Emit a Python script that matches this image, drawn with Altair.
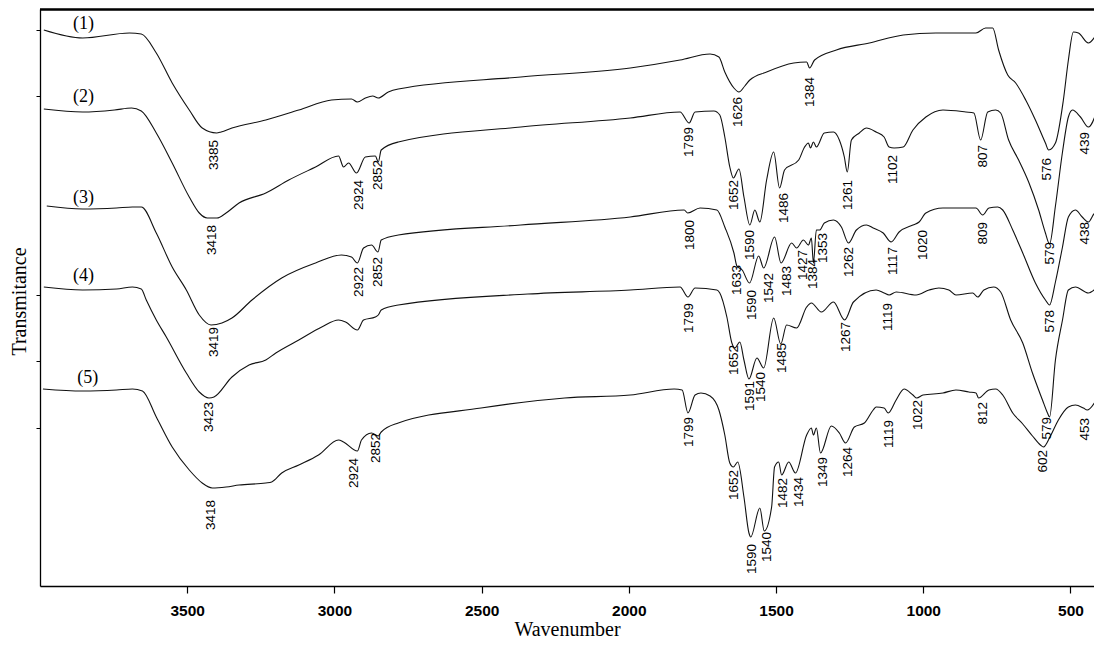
import altair as alt
import pandas as pd

# ---------------- data (wavenumber in cm-1, transmittance in arbitrary offset units) -------------
curve1 = [(3987, 556), (3855, 548), (3696, 553), (3656, 552), (3605, 533), (3551, 503), (3493, 476),
          (3449, 458), (3400, 453), (3385, 454), (3348, 458), (3233, 466), (3121, 476), (3010, 486),
          (2942, 487), (2922, 484), (2895, 488), (2870, 490), (2851, 488), (2817, 494), (2783, 497),
          (2367, 509), (1995, 518), (1826, 526), (1724, 532), (1694, 529), (1674, 514), (1643, 498),
          (1626, 494), (1606, 500), (1589, 506), (1532, 514), (1440, 523), (1396, 524), (1386, 518),
          (1369, 526), (1295, 536), (1183, 543), (1068, 551), (957, 553), (821, 553), (788, 558),
          (764, 558), (744, 536), (713, 511), (686, 503), (652, 486), (619, 466), (585, 443),
          (574, 436), (551, 443), (524, 486), (507, 526), (490, 554), (473, 553), (439, 543), (409, 553)]

curve2 = [(3987, 477), (3855, 474), (3747, 476), (3689, 478), (3656, 475), (3605, 453), (3551, 423),
          (3493, 389), (3459, 373), (3432, 368), (3399, 368), (3368, 373), (3324, 383), (3233, 393),
          (3155, 406), (3064, 419), (2986, 430), (2969, 419), (2952, 423), (2925, 413), (2895, 429),
          (2861, 430), (2851, 424), (2841, 436), (2783, 444), (2367, 459), (1995, 468), (1826, 474),
          (1795, 463), (1775, 474), (1711, 475), (1691, 471), (1674, 449), (1657, 419), (1645, 408),
          (1626, 417), (1609, 389), (1589, 361), (1572, 376), (1555, 364), (1532, 406), (1508, 434),
          (1488, 398), (1471, 416), (1423, 426), (1403, 439), (1390, 443), (1383, 438), (1373, 444),
          (1363, 439), (1336, 453), (1305, 454), (1285, 446), (1268, 429), (1258, 414), (1244, 446),
          (1217, 453), (1193, 458), (1160, 454), (1133, 449), (1116, 439), (1099, 438), (1068, 439),
          (1035, 456), (991, 469), (933, 476), (855, 474), (828, 473), (805, 446), (781, 474),
          (754, 476), (737, 473), (710, 446), (676, 426), (642, 404), (608, 376), (585, 353),
          (571, 342), (551, 380), (527, 434), (507, 469), (493, 476), (466, 469), (439, 459), (409, 476)]

curve3 = [(3977, 380), (3855, 377), (3740, 378), (3686, 379), (3656, 379), (3605, 353), (3551, 319),
          (3503, 296), (3459, 271), (3419, 261), (3382, 263), (3348, 268), (3280, 286), (3179, 308),
          (3064, 323), (2976, 331), (2942, 329), (2922, 323), (2901, 338), (2874, 341), (2852, 334),
          (2841, 346), (2783, 351), (2367, 361), (1995, 369), (1812, 376), (1800, 373), (1758, 378),
          (1701, 376), (1674, 359), (1643, 333), (1633, 320), (1615, 316), (1590, 303), (1559, 330),
          (1542, 318), (1505, 349), (1483, 323), (1447, 343), (1430, 338), (1407, 346), (1390, 341),
          (1380, 348), (1373, 323), (1363, 356), (1352, 356), (1336, 363), (1305, 366), (1278, 359),
          (1254, 343), (1227, 356), (1193, 361), (1170, 358), (1136, 353), (1109, 344), (1082, 354),
          (1035, 361), (1014, 364), (991, 373), (933, 378), (845, 378), (821, 378), (798, 371),
          (777, 378), (747, 379), (730, 376), (696, 356), (662, 333), (619, 303), (585, 286),
          (571, 281), (551, 304), (527, 339), (507, 369), (483, 376), (460, 369), (439, 364),
          (416, 373), (409, 373)]

curve4 = [(3987, 299), (3855, 296), (3740, 297), (3686, 299), (3656, 297), (3639, 286), (3605, 266),
          (3571, 249), (3503, 213), (3459, 194), (3426, 188), (3409, 189), (3348, 209), (3290, 221),
          (3233, 226), (3199, 233), (3121, 246), (3043, 259), (2986, 266), (2962, 264), (2922, 256),
          (2901, 266), (2861, 269), (2851, 271), (2841, 276), (2783, 281), (2343, 292), (1995, 296),
          (1826, 299), (1799, 289), (1775, 298), (1701, 296), (1691, 293), (1667, 269), (1650, 243),
          (1640, 238), (1623, 244), (1609, 226), (1592, 207), (1565, 228), (1542, 218), (1508, 268),
          (1484, 242), (1464, 261), (1430, 258), (1396, 279), (1380, 283), (1346, 274), (1305, 284),
          (1267, 266), (1237, 284), (1160, 296), (1133, 293), (1116, 291), (1092, 294), (1024, 291),
          (980, 296), (947, 298), (913, 296), (889, 291), (832, 293), (815, 289), (794, 296),
          (761, 299), (737, 294), (703, 266), (662, 243), (629, 213), (595, 186), (578, 173),
          (571, 169), (551, 226), (527, 266), (507, 296), (483, 299), (439, 293), (416, 297)]

curve5 = [(3990, 197), (3855, 195), (3740, 196), (3686, 197), (3652, 195), (3605, 169), (3551, 139),
          (3493, 116), (3449, 103), (3415, 98), (3368, 99), (3324, 101), (3233, 103), (3213, 104),
          (3179, 113), (3121, 121), (3054, 131), (2986, 146), (2969, 144), (2922, 135), (2908, 146),
          (2874, 153), (2851, 150), (2841, 154), (2783, 163), (2502, 178), (2218, 188), (1995, 191),
          (1846, 197), (1819, 196), (1799, 173), (1775, 191), (1755, 193), (1724, 190), (1694, 176),
          (1674, 151), (1657, 123), (1645, 119), (1630, 124), (1609, 89), (1592, 53), (1586, 49),
          (1555, 78), (1540, 55), (1515, 79), (1505, 119), (1491, 124), (1481, 111), (1457, 124),
          (1434, 113), (1396, 151), (1380, 158), (1373, 151), (1363, 158), (1349, 133), (1312, 160),
          (1285, 153), (1264, 143), (1234, 159), (1200, 163), (1170, 176), (1160, 179), (1133, 178),
          (1119, 173), (1092, 186), (1065, 197), (1035, 191), (1022, 188), (1001, 191), (933, 193),
          (889, 196), (845, 194), (821, 193), (812, 188), (777, 196), (754, 197), (730, 191),
          (696, 173), (662, 162), (629, 150), (602, 141), (592, 139), (568, 150), (541, 166),
          (507, 179), (483, 181), (456, 178), (443, 176), (409, 188)]

curve_names = ["(1)", "(2)", "(3)", "(4)", "(5)"]
curve_name_wn = [3852, 3852, 3852, 3852, 3838]
curve_name_t = [562, 489, 388, 310, 208]

# peak annotations: text, wavenumber position, transmittance position (top of text)
peak_text = ["3385", "1626", "1384", "576",
             "3418", "2924", "2852", "1799", "1652", "1590", "1486", "1261", "1102", "807", "579", "439",
             "3419", "2922", "2852", "1800", "1633", "1590", "1542", "1483", "1427", "1384", "1353",
             "1262", "1117", "1020", "809", "578", "438",
             "3423", "1799", "1652", "1591", "1540", "1485", "1267", "1119", "579",
             "3418", "2924", "2852", "1799", "1652", "1590", "1540", "1482", "1434", "1349", "1264",
             "1119", "1022", "812", "602", "453"]
peak_wn = [3409, 1630, 1383, 578,
           3415, 2918, 2851, 1795, 1643, 1589, 1474, 1254, 1102, 798, 568, 449,
           3409, 2918, 2851, 1792, 1633, 1582, 1525, 1464, 1407, 1373, 1339,
           1251, 1102, 1001, 798, 568, 449,
           3426, 1795, 1643, 1589, 1552, 1481, 1261, 1119, 578,
           3419, 2935, 2858, 1795, 1643, 1582, 1532, 1478, 1423, 1339, 1254,
           1116, 1018, 798, 592, 449]
peak_t = [446, 489, 509, 428,
          361, 406, 426, 459, 406, 356, 393, 406, 431, 441, 344, 454,
          259, 319, 329, 366, 321, 296, 313, 320, 336, 327, 353,
          339, 339, 356, 364, 276, 364,
          184, 283, 241, 205, 214, 243, 264, 283, 169,
          86, 128, 153, 169, 116, 42, 54, 108, 109, 129, 139,
          166, 186, 184, 136, 168]

x_ticks = [3500, 3000, 2500, 2000, 1500, 1000, 500]
y_ticks = [556, 490, 291, 225, 158]

# ---------------- build tables ----------------
rows = []
for name, pts in zip(curve_names, [curve1, curve2, curve3, curve4, curve5]):
    for w, t in pts:
        rows.append({"wn": w, "T": t, "curve": name})
df = pd.DataFrame(rows)
df_peaks = pd.DataFrame({"wn": peak_wn, "T": peak_t, "label": peak_text})
df_names = pd.DataFrame({"wn": curve_name_wn, "T": curve_name_t, "label": curve_names})

W, H = 1054, 577
xscale = alt.Scale(domain=[420, 4000], reverse=True, nice=False, zero=False)
yscale = alt.Scale(domain=[0, H], nice=False, zero=False)

xaxis = alt.Axis(values=x_ticks, format="d", grid=False, tickSize=7, tickColor="black", tickWidth=1.2,
                 domainColor="black", domainWidth=1.3, labelFont="Liberation Sans",
                 labelFontWeight="bold", labelFontSize=15.5, labelColor="black", labelPadding=10,
                 title="Wavenumber", titleFont="Liberation Serif", titleFontSize=20,
                 titleFontWeight="normal", titleColor="black", titleBaseline="alphabetic", titleY=49)
yaxis = alt.Axis(values=y_ticks, grid=False, labels=False, tickSize=4, tickColor="black",
                 domainColor="black", domainWidth=1.3, title="Transmitance",
                 titleFont="Liberation Serif", titleFontSize=20, titleFontWeight="normal",
                 titleColor="black", titleBaseline="middle", titleX=-21, titleY=292)

lines = alt.Chart(df).mark_line(color="#111111", strokeWidth=1.1, clip=True,
                                interpolate="monotone").encode(
    x=alt.X("wn:Q", scale=xscale, axis=xaxis),
    y=alt.Y("T:Q", scale=yscale, axis=yaxis),
    detail="curve:N",
)

peaks = alt.Chart(df_peaks).mark_text(angle=270, align="right", baseline="middle", fontSize=13.5,
                                      font="Liberation Sans", color="black").encode(
    x=alt.X("wn:Q", scale=xscale), y=alt.Y("T:Q", scale=yscale), text="label:N")

names = alt.Chart(df_names).mark_text(align="center", baseline="middle", fontSize=18,
                                      font="Liberation Serif", color="black").encode(
    x=alt.X("wn:Q", scale=xscale), y=alt.Y("T:Q", scale=yscale), text="label:N")

top_border = alt.Chart(df_names).mark_rule(color="black", strokeWidth=1.3).encode(
    x=alt.value(0), x2=alt.value(W), y=alt.value(0.5))

chart = alt.layer(lines, peaks, names, top_border).properties(
    width=W, height=H,
    autosize=alt.AutoSizeParams(type="none"),
    padding={"left": 32, "top": 1, "right": 0, "bottom": 52},
).configure_view(stroke=None).configure(background="white")

chart.save("out.html", embed_options={"renderer": "svg", "actions": False})
